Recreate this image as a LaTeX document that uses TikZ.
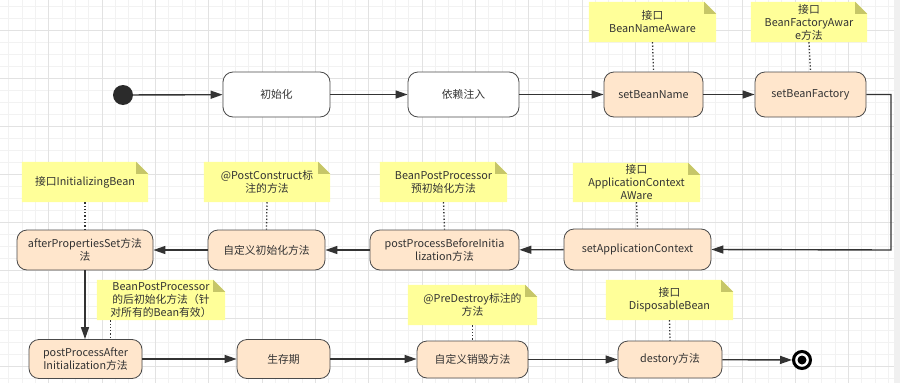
\documentclass[tikz,border=0pt]{standalone}
\usepackage{fontspec}
\setmainfont{Noto Sans CJK SC}
\usetikzlibrary{arrows.meta,calc,backgrounds}

\definecolor{boxfill}{HTML}{FFE6CC}
\definecolor{boxline}{HTML}{4A4A4A}
\definecolor{notefill}{HTML}{FFFF99}
\definecolor{foldfill}{HTML}{C6C668}
\definecolor{ink}{HTML}{333333}
\definecolor{gridminor}{HTML}{F2F2F2}
\definecolor{gridmajor}{HTML}{E2E2E2}

\pgfdeclarelayer{gridlayer}
\pgfsetlayers{gridlayer,background,main}

\tikzset{
  every node/.style={font=\fontsize{10.8}{13}\selectfont, text=ink},
  state/.style={draw=boxline, line width=0.8pt, rounded corners=10pt, fill=boxfill,
                align=center, inner sep=2pt},
  plainstate/.style={state, fill=white},
  note/.style={align=center, inner sep=1pt},
  flow/.style={draw=ink, line width=1.4pt, -{Triangle[length=12pt,width=8pt]}},
  link/.style={draw=ink, line width=1.3pt, dotted},
  startdot/.style={circle, fill=ink!85!black, minimum size=20pt, inner sep=0pt},
  endring/.style={circle, draw=black, line width=3pt, minimum size=17pt, inner sep=0pt},
}

% folded-corner note background drawn behind a named node
\newcommand\notebg[1]{%
  \begin{pgfonlayer}{background}
    \fill[notefill] (#1.south west) -- (#1.south east) -- ([yshift=-12pt]#1.north east)
      -- ([xshift=-12pt]#1.north east) -- (#1.north west) -- cycle;
    \fill[foldfill] ([xshift=-12pt]#1.north east) -- ([yshift=-12pt]#1.north east)
      -- ([xshift=-12pt,yshift=-12pt]#1.north east) -- cycle;
  \end{pgfonlayer}}

\begin{document}
\begin{tikzpicture}[x=1pt, y=-1pt]
  \useasboundingbox (0,0) rectangle (900,383);

  % drawing-board grid
  \begin{pgfonlayer}{gridlayer}
    \fill[white] (0,0) rectangle (900,383);
    \foreach \i in {0,...,67} {
      \draw[gridminor, line width=0.5pt] ({8.6+13.33*\i},0) -- ({8.6+13.33*\i},383);
    }
    \foreach \i in {0,...,31} {
      \draw[gridminor, line width=0.5pt] (0,{6.7+12*\i}) -- (900,{6.7+12*\i});
    }
    \foreach \i in {0,...,16} {
      \draw[gridmajor, line width=0.6pt] ({48.6+53.33*\i},0) -- ({48.6+53.33*\i},383);
    }
    \foreach \i in {0,...,7} {
      \draw[gridmajor, line width=0.6pt] (0,{30.7+48*\i}) -- (900,{30.7+48*\i});
    }
    \fill[gray!12] (894,0) rectangle (900,383);
  \end{pgfonlayer}

  % first row
  \node[startdot] (start) at (123,95) {};
  \node[plainstate, minimum width=107pt, minimum height=45pt] (init) at (276.5,94.5) {初始化};
  \node[plainstate, minimum width=111pt, minimum height=45pt] (inject) at (463.5,94.5) {依赖注入};
  \node[state, minimum width=99pt, minimum height=45pt] (sbn) at (653.5,94.5) {setBeanName};
  \node[state, minimum width=111pt, minimum height=45pt] (sbf) at (810.5,94.5) {setBeanFactory};

  % second row
  \node[state, minimum width=136pt, minimum height=40pt] (aps) at (85,250) {afterPropertiesSet方法\\法};
  \node[state, minimum width=117pt, minimum height=40pt] (cinit) at (266.5,250) {自定义初始化方法};
  \node[state, minimum width=149pt, minimum height=40pt] (ppbi) at (444.5,250) {postProcessBeforeInitia\\lization方法};
  \node[state, minimum width=147pt, minimum height=41pt] (sac) at (637.5,249.5) {setApplicationContext};

  % third row
  \node[state, minimum width=113pt, minimum height=39pt] (ppai) at (85.5,359) {postProcessAfter\\Initialization方法};
  \node[state, minimum width=93pt, minimum height=39pt] (live) at (283.5,359) {生存期};
  \node[state, minimum width=111pt, minimum height=37pt] (cdes) at (472.5,359.5) {自定义销毁方法};
  \node[state, minimum width=104pt, minimum height=37pt] (dest) at (670,359.5) {destory方法};
  \node[endring] (finish) at (802,360) {};
  \fill[black] (finish.center) circle (4.5pt);

  % notes
  \node[note, minimum width=127pt, minimum height=40pt] (n1) at (652.5,22) {接口\\BeanNameAware};
  \node[note, minimum width=116pt, minimum height=40pt] (n2) at (809,22) {接口\\BeanFactoryAwar\\e方法};
  \node[note, minimum width=126pt, minimum height=40pt] (n3) at (85,182) {接口InitializingBean};
  \node[note, minimum width=126pt, minimum height=40pt] (n4) at (267,182) {@PostConstruct标\\注的方法};
  \node[note, minimum width=127pt, minimum height=40pt] (n5) at (443.5,182) {BeanPostProcessor\\预初始化方法};
  \node[note, minimum width=127pt, minimum height=39pt] (n6) at (636.5,182.5) {接口\\ApplicationContext\\AWare};
  \node[note, minimum width=128pt, minimum height=40pt] (n7) at (161,300) {BeanPostProcessor\\的后初始化方法（针\\对所有的Bean有效）};
  \node[note, minimum width=129pt, minimum height=40pt] (n8) at (472.5,305) {@PreDestroy标注的\\方法};
  \node[note, minimum width=127pt, minimum height=40pt] (n9) at (669.5,300) {接口\\DisposableBean};
  \foreach \n in {n1,n2,n3,n4,n5,n6,n7,n8,n9} { \notebg{\n} }

  % note links
  \draw[link] (n1.south) -- (sbn.north);
  \draw[link] (n2.south) -- (sbf.north);
  \draw[link] (n3.south) -- (aps.north);
  \draw[link] (n4.south) -- (cinit.north);
  \draw[link] (n5.south) -- (ppbi.north);
  \draw[link] (n6.south) -- (sac.north);
  \coordinate (d7) at ($(n7.south west)+(14,0)$);
  \draw[link] (d7) -- (d7 |- ppai.north);
  \draw[link] (n8.south) -- (cdes.north);
  \draw[link] (n9.south) -- (dest.north);

  % lifecycle flow
  \draw[flow] (start) -- (init);
  \draw[flow] (init) -- (inject);
  \draw[flow] (inject) -- (sbn);
  \draw[flow] (sbn) -- (sbf);
  \coordinate (bend) at (891,250);
  \draw[flow] (sbf.east) -| (bend) -- (sac.east);
  \draw[flow] (sac) -- (ppbi);
  \draw[flow] (ppbi) -- (cinit);
  \draw[flow] (cinit) -- (aps);
  \draw[flow] (aps.south) -- (aps.south |- ppai.north);
  \draw[flow] (ppai.east) -- (ppai.east -| live.west);
  \draw[flow] (live.east) -- (live.east -| cdes.west);
  \draw[flow] (cdes) -- (dest);
  \draw[flow] (dest) -- (finish);
\end{tikzpicture}
\end{document}
